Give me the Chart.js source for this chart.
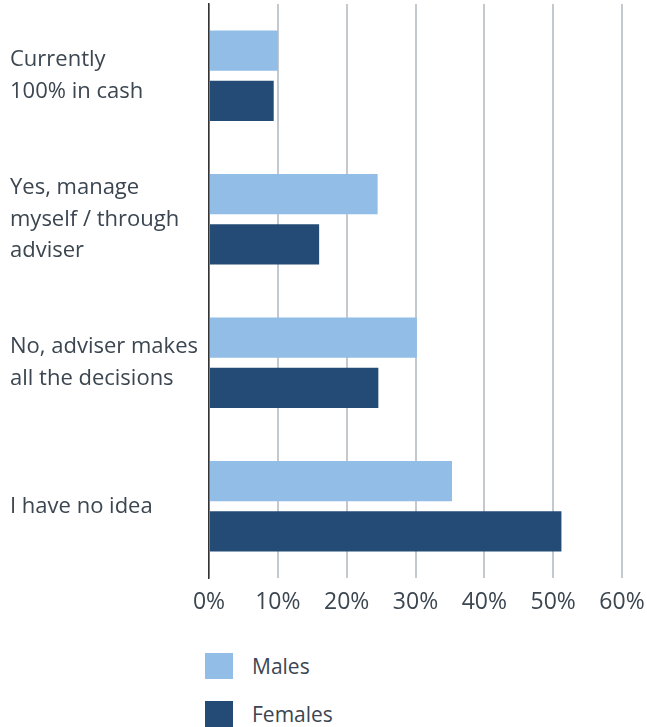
<!DOCTYPE html>
<html>
<head>
<meta charset="utf-8">
<script src="https://cdn.jsdelivr.net/npm/chart.js@4"></script>
<style>
  body { margin: 0; background: #fff; font-family: "Open Sans", sans-serif; }
  #wrap { position: relative; width: 647px; height: 727px; }
  #legend { position: absolute; left: 205px; top: 653px; }
  .item { display: flex; align-items: center; height: 26px; margin-bottom: 22px; color: #3b4650; font-size: 21px; }
  .box { width: 28px; height: 26px; margin-right: 19px; }
</style>
</head>
<body>
<div id="wrap">
  <canvas id="graph" width="647" height="620"></canvas>
  <div id="legend"></div>
</div>
<script>
const categories = [
    ['Currently', '100% in cash'],
    ['Yes, manage', 'myself / through', 'adviser'],
    ['No, adviser makes', 'all the decisions'],
    'I have no idea'
];
const males = [10, 24.5, 30.2, 35.3];
const females = [9.4, 16, 24.6, 51.2];
const xTicks = [0, 10, 20, 30, 40, 50, 60];

const textColor = '#3b4650';
const graph = document.getElementById('graph').getContext('2d');

const chart = new Chart(graph, {
    type: 'bar',
    data: {
        labels: categories,
        datasets: [{
            label: 'Males',
            data: males,
            backgroundColor: '#92bde6',
            categoryPercentage: 0.7,
            barPercentage: 0.8
        },
        {
            label: 'Females',
            data: females,
            backgroundColor: '#234b76',
            categoryPercentage: 0.7,
            barPercentage: 0.8
        }]
    },
    options: {
        indexAxis: 'y',
        responsive: false,
        animation: false,
        layout: { padding: { left: 10, right: 25, top: 4, bottom: 4 } },
        plugins: {
            legend: { display: false },
            tooltip: { enabled: false }
        },
        scales: {
            x: {
                min: 0,
                max: 60,
                afterBuildTicks: scale => { scale.ticks = xTicks.map(v => ({ value: v })); },
                afterFit: scale => {
                    scale.height = 38;
                    scale.paddingLeft = 0;
                    scale.paddingRight = 0;
                },
                ticks: {
                    callback: v => v + '%',
                    color: textColor,
                    padding: 11,
                    font: { family: 'Open Sans', size: 23 }
                },
                grid: { color: '#c3c9cf', lineWidth: 2, drawTicks: false },
                border: { display: false }
            },
            y: {
                afterFit: scale => {
                    scale.width = 199;
                    scale.paddingTop = 0;
                    scale.paddingBottom = 0;
                },
                ticks: {
                    crossAlign: 'far',
                    color: textColor,
                    font: { family: 'Open Sans', size: 22, lineHeight: 1.45 }
                },
                grid: { display: false, drawTicks: false },
                border: { color: '#333', width: 1.5 }
            }
        }
    }
});

// legend stacked vertically, built from the chart's datasets
const legend = document.getElementById('legend');
chart.data.datasets.forEach(ds => {
    legend.insertAdjacentHTML('beforeend',
        `<div class="item"><span class="box" style="background:${ds.backgroundColor}"></span>${ds.label}</div>`);
});
</script>
</body>
</html>
